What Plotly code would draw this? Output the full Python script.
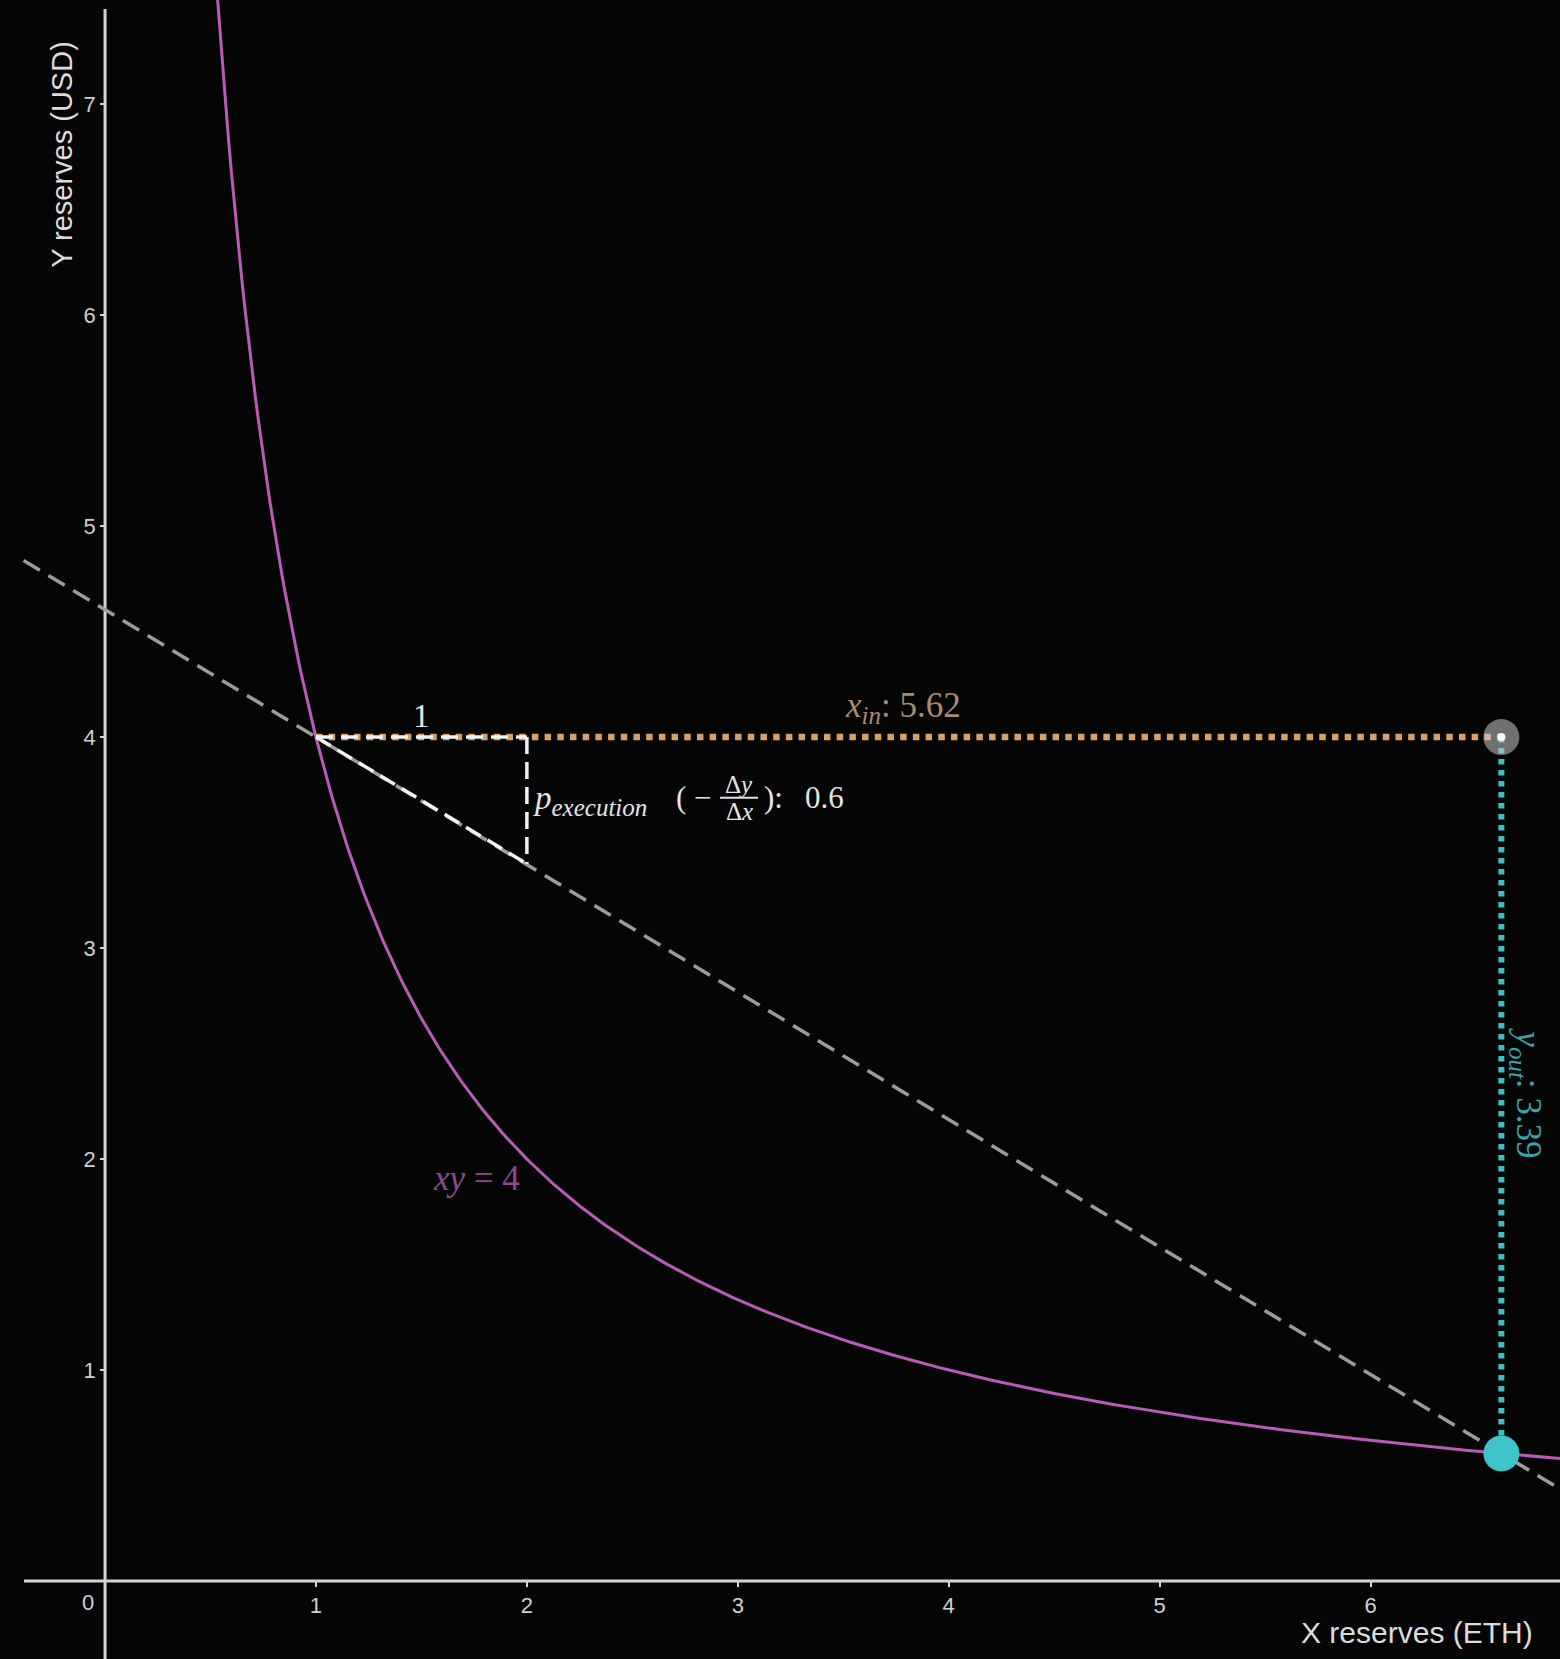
import numpy as np
import plotly.graph_objects as go

# ---- data ----
K = 4                      # constant product xy = K
X0, Y0 = 1.0, 4.0          # starting reserves
X_IN = 5.62                # x added
Y_OUT = 3.39               # y removed
P_EXEC = 0.6               # execution price
X_TICKS = [1, 2, 3, 4, 5, 6]
Y_TICKS = [1, 2, 3, 4, 5, 6, 7]
X_RANGE = [-0.498, 6.898]
Y_RANGE = [-0.370, 7.494]

x_end = X0 + X_IN
y_end = K / x_end
slope = -(Y0 - y_end) / X_IN

curve_x = np.linspace(K / Y_RANGE[1], X_RANGE[1], 500)
curve_y = K / curve_x

line_x = np.array([-0.386, X_RANGE[1]])
line_y = Y0 + slope * (line_x - X0)

W, H = 1560, 1659
BG = "#050505"
SERIF = "Liberation Serif, DejaVu Serif, serif"
SANS = "Liberation Sans, Arial, sans-serif"
WHITE_TXT = "#e4e4e4"
AXIS_C = "#d4d4d4"

fig = go.Figure()

# gray dashed secant line
fig.add_trace(go.Scatter(x=line_x, y=line_y, mode="lines",
                         line=dict(color="#9c9c9c", width=3.5, dash="19px,10px"),
                         hoverinfo="skip"))
# xy = K curve
fig.add_trace(go.Scatter(x=curve_x, y=curve_y, mode="lines",
                         line=dict(color="#b85cb8", width=3), hoverinfo="skip"))
# orange dotted x_in
fig.add_trace(go.Scatter(x=[X0, x_end], y=[Y0, Y0], mode="lines",
                         line=dict(color="#d8a06a", width=6.5, dash="6.5px,6.2px"),
                         hoverinfo="skip"))
# cyan dotted y_out
fig.add_trace(go.Scatter(x=[x_end, x_end], y=[Y0, y_end], mode="lines",
                         line=dict(color="#40bcc4", width=6, dash="5.5px,5.5px"),
                         hoverinfo="skip"))
# white dashed triangle (run of 1, rise of P_EXEC)
for tx, ty in [([X0, X0 + 1], [Y0, Y0]),
               ([X0 + 1, X0 + 1], [Y0, Y0 - P_EXEC]),
               ([X0, X0 + 1], [Y0, Y0 - P_EXEC])]:
    fig.add_trace(go.Scatter(x=tx, y=ty, mode="lines",
                             line=dict(color="#f2f2f2", width=3.5, dash="17px,8px"),
                             hoverinfo="skip"))
# gray point
fig.add_trace(go.Scatter(x=[x_end], y=[Y0], mode="markers",
                         marker=dict(size=36, color="rgba(200,200,200,0.55)", line=dict(width=0)),
                         hoverinfo="skip"))
fig.add_trace(go.Scatter(x=[x_end], y=[Y0], mode="markers",
                         marker=dict(size=8, color="#ffffff", line=dict(width=0)),
                         hoverinfo="skip"))
# cyan point
fig.add_trace(go.Scatter(x=[x_end], y=[y_end], mode="markers",
                         marker=dict(size=36, color="#3ec3ca", line=dict(width=0)),
                         hoverinfo="skip"))

def px2x(p):
    return X_RANGE[0] + p / W * (X_RANGE[1] - X_RANGE[0])

def py2y(p):
    return Y_RANGE[1] - p / H * (Y_RANGE[1] - Y_RANGE[0])

ann = []
# "1"
ann.append(dict(x=X0 + 0.5, y=Y0, xref="x", yref="y", text="1", showarrow=False,
                yanchor="bottom", yshift=1, font=dict(family=SERIF, size=33, color=WHITE_TXT)))
# p_execution label
ann.append(dict(x=px2x(531), y=3.70, xref="x", yref="y",
                text="<i>p</i><sub><i><span style='font-size:25px'>execution</span></i></sub>",
                showarrow=False, xanchor="left", yanchor="middle",
                font=dict(family=SERIF, size=33, color=WHITE_TXT)))
ann.append(dict(x=px2x(714), y=3.712, xref="x", yref="y", text="( −", showarrow=False,
                xanchor="right", yanchor="middle", font=dict(family=SERIF, size=31, color=WHITE_TXT)))
ann.append(dict(x=3.006, y=3.712, xref="x", yref="y", text="Δ<i>y</i>", showarrow=False,
                xanchor="center", yanchor="bottom", yshift=-2,
                font=dict(family=SERIF, size=25, color=WHITE_TXT)))
ann.append(dict(x=3.006, y=3.712, xref="x", yref="y", text="Δ<i>x</i>", showarrow=False,
                xanchor="center", yanchor="top", yshift=2,
                font=dict(family=SERIF, size=25, color=WHITE_TXT)))
ann.append(dict(x=px2x(762), y=3.712, xref="x", yref="y", text="):", showarrow=False,
                xanchor="left", yanchor="middle", font=dict(family=SERIF, size=31, color=WHITE_TXT)))
ann.append(dict(x=px2x(846), y=3.712, xref="x", yref="y", text=f"{P_EXEC}", showarrow=False,
                xanchor="right", yanchor="middle", font=dict(family=SERIF, size=31, color=WHITE_TXT)))
# x_in label
ann.append(dict(x=px2x(843), y=4.14, xref="x", yref="y",
                text=f"<i>x</i><sub><i><span style='font-size:25px'>in</span></i></sub>: {X_IN}",
                showarrow=False, xanchor="left", yanchor="middle",
                font=dict(family=SERIF, size=35, color="#a88c70")))
# y_out label
ann.append(dict(x=6.735, y=2.313, xref="x", yref="y",
                text=f"<i>y</i><sub><i><span style='font-size:25px'>out</span></i></sub>: {Y_OUT}",
                showarrow=False, textangle=90,
                xanchor="center", yanchor="middle", font=dict(family=SERIF, size=35, color="#3aa4ac")))
# xy = 4 label
ann.append(dict(x=1.759, y=1.91, xref="x", yref="y", text=f"<i>xy</i> = {K}", showarrow=False,
                xanchor="center", yanchor="middle", font=dict(family=SERIF, size=35, color="#8c4a8e")))
# origin label
ann.append(dict(x=-0.081, y=-0.104, xref="x", yref="y", text="0", showarrow=False,
                xanchor="center", yanchor="middle", font=dict(family=SANS, size=22, color="#d0d0d0")))
# axis titles
ann.append(dict(x=1535 / W, y=-0.242, xref="paper", yref="y", text="X reserves (ETH)",
                showarrow=False, xanchor="right", yanchor="middle",
                font=dict(family=SANS, size=30, color="#dcdcdc")))
ann.append(dict(x=-0.204, y=6.76, xref="x", yref="y", text="Y reserves (USD)",
                showarrow=False, textangle=-90, xanchor="center", yanchor="middle",
                font=dict(family=SANS, size=29, color="#dcdcdc")))

# fraction bar
fig.add_shape(type="line", xref="x", yref="y", x0=px2x(720), x1=px2x(758), y0=3.712, y1=3.712,
              line=dict(color=WHITE_TXT, width=2))
# axis lines (GeoGebra style: x-axis begins a little right of the left edge)
fig.add_shape(type="line", xref="x", yref="y", x0=px2x(24), x1=X_RANGE[1], y0=0, y1=0,
              line=dict(color=AXIS_C, width=3), layer="below")
fig.add_shape(type="line", xref="x", yref="y", x0=0, x1=0, y0=py2y(9), y1=Y_RANGE[0],
              line=dict(color=AXIS_C, width=3), layer="below")

x_pos = (0 - Y_RANGE[0]) / (Y_RANGE[1] - Y_RANGE[0])
y_pos = (0 - X_RANGE[0]) / (X_RANGE[1] - X_RANGE[0])

fig.update_layout(
    width=W, height=H, margin=dict(l=0, r=0, t=0, b=0),
    paper_bgcolor=BG, plot_bgcolor=BG, showlegend=False,
    annotations=ann,
    xaxis=dict(range=X_RANGE, anchor="free", position=x_pos, showline=False,
               showgrid=False, zeroline=False,
               tickvals=X_TICKS, ticks="outside", ticklen=5, tickwidth=2, tickcolor=AXIS_C,
               tickfont=dict(family=SANS, size=22, color="#d0d0d0"), automargin=False),
    yaxis=dict(range=Y_RANGE, anchor="free", position=y_pos, showline=False,
               showgrid=False, zeroline=False,
               tickvals=Y_TICKS, ticks="outside", ticklen=5, tickwidth=2, tickcolor=AXIS_C,
               tickfont=dict(family=SANS, size=22, color="#d0d0d0"), automargin=False),
)

fig.write_html("out.html")
